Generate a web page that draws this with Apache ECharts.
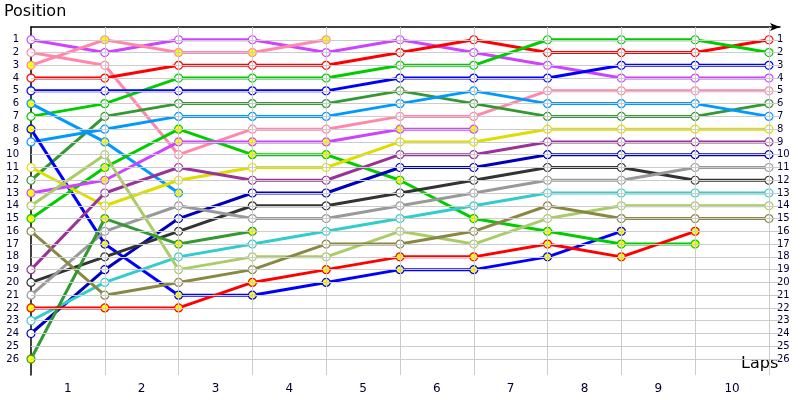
<!DOCTYPE html>
<html>
<head>
<meta charset="utf-8">
<script src="https://cdn.jsdelivr.net/npm/echarts@6/dist/echarts.min.js"></script>
<style>
  html, body { margin: 0; padding: 0; background: #fff; }
  #main { width: 800px; height: 400px; }
</style>
</head>
<body>
<div id="main"></div>
<script>
// position per lap, index 0 = start
const violet   = [1, 2, 1, 1, 2, 1, 2, 3, 4, 4, 4];
const pinkA    = [3, 1, 2, 2, 1];
const pinkB    = [2, 3, 10, 8, 8, 7, 7, 5, 5, 5, 5];
const red      = [4, 4, 3, 3, 3, 2, 1, 2, 2, 2, 1];
const green    = [7, 6, 4, 4, 4, 3, 3, 1, 1, 1, 2];
const blue     = [5, 5, 5, 5, 5, 4, 4, 4, 3, 3, 3];
const dgreen   = [12, 7, 6, 6, 6, 5, 6, 7, 7, 7, 6];
const lblue    = [9, 8, 7, 7, 7, 6, 5, 6, 6, 6, 7];
const lblueB   = [6, 9, 13];
const blueB    = [8, 17, 21, 21, 20, 19, 19, 18, 16];
const greenB   = [15, 11, 8, 10, 10, 12, 15, 16, 17, 17];
const yellow   = [11, 14, 12, 11, 11, 9, 9, 8, 8, 8, 8];
const purple   = [19, 13, 11, 12, 12, 10, 10, 9, 9, 9, 9];
const violetB  = [13, 12, 9, 9, 9, 8, 8];
const dblue    = [24, 19, 15, 13, 13, 11, 11, 10, 10, 10, 10];
const black    = [20, 18, 16, 14, 14, 13, 12, 11, 11, 12, 12];
const grey     = [21, 16, 14, 15, 15, 14, 13, 12, 12, 11, 11];
const cyan     = [23, 20, 18, 17, 16, 15, 14, 13, 13, 13, 13];
const lgreen   = [14, 10, 19, 18, 18, 16, 17, 15, 14, 14, 14];
const olive    = [16, 21, 20, 19, 17, 17, 16, 14, 15, 15, 15];
const dgreenB  = [26, 15, 17, 16];
const redB     = [22, 22, 22, 20, 19, 18, 18, 17, 18, 16];

const laps = ['1', '2', '3', '4', '5', '6', '7', '8', '9', '10'];
const positions = Array.from({ length: 26 }, (_, i) => i + 1);

// [data, colour, retired (yellow marker)]
const drivers = [
  [violet, '#cc44ff', false], [pinkA, '#ff88aa', true], [pinkB, '#ff88aa', false],
  [red, '#ff0000', false], [green, '#00cc00', false], [blue, '#0000ff', false],
  [dgreen, '#339933', false], [lblue, '#0099ff', false], [lblueB, '#0099ff', true],
  [blueB, '#0000ff', true], [greenB, '#00cc00', true], [yellow, '#dddd00', false],
  [purple, '#993399', false], [violetB, '#cc44ff', true], [dblue, '#0000bb', false],
  [black, '#333333', false], [grey, '#999999', false], [cyan, '#33cccc', false],
  [lgreen, '#aacc66', false], [olive, '#888844', false], [dgreenB, '#339933', true],
  [redB, '#ff0000', true]
];

const chart = echarts.init(document.getElementById('main'));

const series = [{
  type: 'line', data: [], silent: true, z: 1,
  markLine: {
    silent: true, symbol: 'none', label: { show: false },
    lineStyle: { color: '#cccccc', width: 1, type: 'solid' },
    data: positions.map(p => ({ yAxis: p }))
      .concat(laps.map((l, i) => ({ xAxis: i + 1 })))
  }
}];

drivers.forEach(([d, c, ret]) => {
  series.push({
    type: 'line',
    data: d.map((p, i) => [i, p]),
    symbol: 'circle',
    symbolSize: 8,
    z: 3,
    lineStyle: { color: c, width: 3 },
    itemStyle: { color: ret ? '#ffff00' : '#ffffff', borderColor: c, borderWidth: 1.2 },
    emphasis: { disabled: true }
  });
});

const yLabel = { fontSize: 10, color: '#000033', fontFamily: 'DejaVu Sans',
  formatter: v => (v >= 1 && v <= 26 ? String(v) : '') };

chart.setOption({
  animation: false,
  grid: { left: 31, right: 20, top: 27, bottom: 25 },
  xAxis: [{
    type: 'value', min: 0, max: 10.15, interval: 1,
    axisLine: { lineStyle: { color: '#000', width: 1.5 }, symbol: ['none', 'arrow'], symbolSize: [6, 10] },
    axisTick: { show: false }, axisLabel: { show: false }, splitLine: { show: false }
  }, {
    type: 'value', min: 0, max: 10.15, interval: 0.5, position: 'bottom',
    axisLine: { show: false }, axisTick: { show: false }, splitLine: { show: false },
    axisLabel: {
      fontSize: 12, color: '#000033', fontFamily: 'DejaVu Sans', margin: 8,
      formatter: v => (Math.abs(v % 1 - 0.5) < 1e-6 ? laps[Math.floor(v)] : '')
    }
  }],
  yAxis: [{
    type: 'value', inverse: true, min: 0, max: 27.25, interval: 1,
    axisLine: { onZero: false, lineStyle: { color: '#000', width: 1.5 } },
    axisTick: { show: false }, splitLine: { show: false },
    axisLabel: Object.assign({ margin: 12 }, yLabel)
  }, {
    type: 'value', inverse: true, min: 0, max: 27.25, interval: 1, position: 'right',
    axisLine: { show: false }, axisTick: { show: false }, splitLine: { show: false },
    axisLabel: Object.assign({ margin: -3 }, yLabel)
  }],
  graphic: [
    { type: 'text', left: 4, top: 4, style: { text: 'Position', fontSize: 16, fill: '#000', fontFamily: 'DejaVu Sans' } },
    { type: 'text', left: 741, top: 356, style: { text: 'Laps', fontSize: 16, fill: '#000', fontFamily: 'DejaVu Sans' } }
  ],
  series: series
});
</script>
</body>
</html>
